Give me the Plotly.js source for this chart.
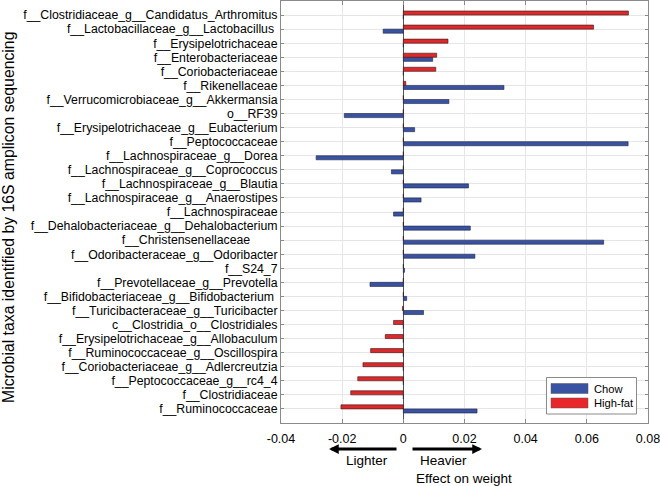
<!DOCTYPE html>
<html>
<head>
<meta charset="utf-8">
<script src="https://cdn.plot.ly/plotly-3.0.1.min.js"></script>
<style>html,body{margin:0;padding:0;background:#fff;}#chart{width:660px;height:486px;}</style>
</head>
<body>
<div id="chart"></div>
<script>
// ---- data ----
var taxa = [
  "f__Clostridiaceae_g__Candidatus_Arthromitus",
  "f__Lactobacillaceae_g__Lactobacillus\u00A0",
  "f__Erysipelotrichaceae",
  "f__Enterobacteriaceae",
  "f__Coriobacteriaceae",
  "f__Rikenellaceae",
  "f__Verrucomicrobiaceae_g__Akkermansia",
  "o__RF39",
  "f__Erysipelotrichaceae_g__Eubacterium",
  "f__Peptococcaceae",
  "f__Lachnospiraceae_g__Dorea",
  "f__Lachnospiraceae_g__Coprococcus",
  "f__Lachnospiraceae_g__Blautia",
  "f__Lachnospiraceae_g__Anaerostipes",
  "f__Lachnospiraceae",
  "f__Dehalobacteriaceae_g__Dehalobacterium",
  "f__Christensenellaceae\u00A0\u00A0\u00A0\u00A0\u00A0\u00A0\u00A0\u00A0",
  "f__Odoribacteraceae_g__Odoribacter",
  "f__S24_7",
  "f__Prevotellaceae_g__Prevotella",
  "f__Bifidobacteriaceae_g__Bifidobacterium\u00A0",
  "f__Turicibacteraceae_g__Turicibacter",
  "c__Clostridia_o__Clostridiales",
  "f__Erysipelotrichaceae_g__Allobaculum",
  "f__Ruminococcaceae_g__Oscillospira",
  "f__Coriobacteriaceae_g__Adlercreutzia",
  "f__Peptococcaceae_g__rc4_4",
  "f__Clostridiaceae",
  "f__Ruminococcaceae"
];
var chowName = "Chow";
var highFatName = "High-fat";
var chow = [0, -0.0066, 0, 0.0096, 0, 0.0329, 0.0149, -0.0193, 0.0037, 0.0735,
            -0.0285, -0.0039, 0.0213, 0.0058, -0.0032, 0.0219, 0.0655, 0.0234, 0.0004, -0.0109,
            0.0011, 0.0066, 0, 0, 0, 0, 0, 0, 0.0241];
var highFat = [0.0736, 0.0622, 0.0146, 0.0109, 0.0106, 0.0008, 0, 0, 0, 0,
               0, 0, 0, 0, 0, 0, 0, 0, 0, 0,
               0, -0.0003, -0.0032, -0.0059, -0.0107, -0.0132, -0.0149, -0.0172, -0.0204];
var xTicks = [-0.04, -0.02, 0, 0.02, 0.04, 0.06, 0.08];
var xTickText = ["-0.04", "-0.02", "0", "0.02", "0.04", "0.06", "0.08"];
var xTitle = "Effect on weight";
var yTitle = "Microbial taxa identified by 16S amplicon sequencing";
var lighterText = "Lighter";
var heavierText = "Heavier";

// ---- styles ----
var BLUE = "#3a52a2", RED = "#dc2a2c";
var LEG_BLUE = "#3953a4", LEG_RED = "#e8262b";
var FONT = "Liberation Sans, Arial, Helvetica, sans-serif";
var BW = 0.29;

// plot area in px (for decoration placement)
var PL = 281, PR = 648, PT = 1, PB = 423;
function px2x(px) { return (px - PL) / (PR - PL); }
function px2y(py) { return (PB - py) / (PB - PT); }

var traces = [
  {type: "bar", orientation: "h", name: chowName, y: taxa, x: chow,
   offset: 0, width: BW,
   marker: {color: BLUE, line: {color: "#1c2340", width: 0.6}}, showlegend: false},
  {type: "bar", orientation: "h", name: highFatName, y: taxa, x: highFat,
   offset: -BW, width: BW,
   marker: {color: RED, line: {color: "#3a1010", width: 0.6}}, showlegend: false}
];

var shapes = [
  {type: "rect", xref: "paper", yref: "paper", x0: px2x(546.5), x1: px2x(636.5), y0: px2y(414), y1: px2y(377.5),
   line: {color: "#8a8a8a", width: 1}, fillcolor: "#ffffff", layer: "above"},
  {type: "rect", xref: "paper", yref: "paper", x0: px2x(551), x1: px2x(588), y0: px2y(393.5), y1: px2y(383.5),
   line: {color: "#555", width: 0.5}, fillcolor: LEG_BLUE, layer: "above"},
  {type: "rect", xref: "paper", yref: "paper", x0: px2x(551), x1: px2x(588), y0: px2y(408), y1: px2y(398),
   line: {color: "#555", width: 0.5}, fillcolor: LEG_RED, layer: "above"}
];

var annotations = [
  {xref: "paper", yref: "paper", x: px2x(592), y: px2y(389), text: chowName, showarrow: false,
   xanchor: "left", yanchor: "middle", font: {family: FONT, size: 11.2, color: "#000"}},
  {xref: "paper", yref: "paper", x: px2x(592), y: px2y(403), text: highFatName, showarrow: false,
   xanchor: "left", yanchor: "middle", font: {family: FONT, size: 11.2, color: "#000"}},
  // direction arrows
  {xref: "paper", yref: "paper", x: px2x(329), y: px2y(449), axref: "pixel", ayref: "pixel",
   ax: 69, ay: 0, text: "", showarrow: true, arrowhead: 2, arrowwidth: 3, arrowsize: 0.65, arrowcolor: "#000"},
  {xref: "paper", yref: "paper", x: px2x(482), y: px2y(449), axref: "pixel", ayref: "pixel",
   ax: -71, ay: 0, text: "", showarrow: true, arrowhead: 2, arrowwidth: 3, arrowsize: 0.65, arrowcolor: "#000"},
  {xref: "paper", yref: "paper", x: px2x(367), y: px2y(461), text: lighterText, showarrow: false,
   xanchor: "center", yanchor: "middle", font: {family: FONT, size: 13.5, color: "#000"}},
  {xref: "paper", yref: "paper", x: px2x(443), y: px2y(461), text: heavierText, showarrow: false,
   xanchor: "center", yanchor: "middle", font: {family: FONT, size: 13.5, color: "#000"}},
  {xref: "paper", yref: "paper", x: px2x(464), y: px2y(478), text: xTitle, showarrow: false,
   xanchor: "center", yanchor: "middle", font: {family: FONT, size: 13.5, color: "#000"}},
  {xref: "paper", yref: "paper", x: px2x(8), y: px2y(218), text: yTitle, showarrow: false, textangle: -90,
   xanchor: "center", yanchor: "middle", font: {family: FONT, size: 15.8, color: "#000"}}
];

var layout = {
  width: 660, height: 486,
  margin: {l: PL, r: 660 - PR, t: PT, b: 486 - PB, pad: 0},
  paper_bgcolor: "#fff", plot_bgcolor: "#fff",
  barmode: "overlay",
  showlegend: false,
  font: {family: FONT, size: 12.3, color: "#000"},
  xaxis: {
    range: [-0.04, 0.08], tickmode: "array", tickvals: xTicks, ticktext: xTickText,
    showgrid: true, gridcolor: "#e6e6e6", gridwidth: 1,
    zeroline: true, zerolinecolor: "#555", zerolinewidth: 1,
    showline: true, linecolor: "#8a8a8a", linewidth: 1, mirror: "ticks",
    ticks: "inside", ticklen: 4, tickcolor: "#8a8a8a",
    ticklabelstandoff: 4, ticklabeloverflow: "allow",
    tickfont: {family: FONT, size: 12.5, color: "#000"},
    automargin: false, fixedrange: true
  },
  yaxis: {
    type: "category", categoryarray: taxa, categoryorder: "array",
    tickmode: "array", tickvals: taxa, ticktext: taxa,
    range: [29, -1],
    showgrid: true, gridcolor: "#e6e6e6", gridwidth: 1,
    showline: true, linecolor: "#8a8a8a", linewidth: 1, mirror: "ticks",
    ticks: "inside", ticklen: 3, tickcolor: "#8a8a8a",
    tickfont: {family: FONT, size: 12.3, color: "#000"},
    automargin: false, fixedrange: true
  },
  shapes: shapes,
  annotations: annotations
};

Plotly.newPlot("chart", traces, layout, {displayModeBar: false, staticPlot: true});
</script>
</body>
</html>
